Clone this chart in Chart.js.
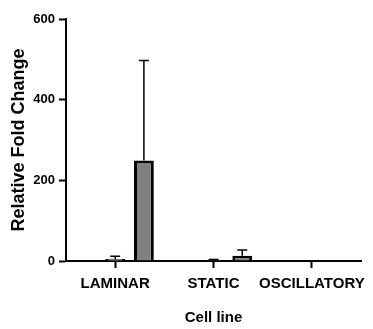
<!DOCTYPE html>
<html>
<head>
<meta charset="utf-8">
<script src="https://cdn.jsdelivr.net/npm/chart.js@4/dist/chart.umd.min.js"></script>
<style>
  html, body { margin: 0; padding: 0; background: #ffffff; }
  #wrap { width: 373px; height: 329px; }
</style>
</head>
<body>
<div id="wrap"><canvas id="c" width="373" height="329"></canvas></div>
<script>
// Categories on the x axis
const categories = ['LAMINAR', 'STATIC', 'OSCILLATORY'];

// Group means (relative fold change) and their upper error bars
const reservedMeans = [null, null, null];   // empty first slot of each group
const controlMeans  = [5, 3, 0];
const controlErrors = [7, 1, 0];
const treatedMeans  = [249, 13, 0];
const treatedErrors = [248, 14, 0];

// Y axis tick values
const yTicks = [0, 200, 400, 600];

const SANS = '"Liberation Sans", Arial, sans-serif';

// Draws an upward whisker with a cap above each bar
const upperErrorBars = {
  id: 'upperErrorBars',
  afterDatasetsDraw(chart) {
    const ctx = chart.ctx;
    const yScale = chart.scales.y;
    chart.data.datasets.forEach((ds, i) => {
      if (!ds.errors) return;
      const meta = chart.getDatasetMeta(i);
      meta.data.forEach((bar, j) => {
        const v = ds.data[j];
        const e = ds.errors[j];
        if (v == null || !e) return;
        const x = bar.x;
        const yBar = yScale.getPixelForValue(v);
        const yTop = yScale.getPixelForValue(v + e);
        ctx.save();
        ctx.strokeStyle = '#000000';
        ctx.lineWidth = 1.5;
        ctx.beginPath();
        ctx.moveTo(x, yBar);
        ctx.lineTo(x, yTop);
        ctx.moveTo(x - 5, yTop);
        ctx.lineTo(x + 5, yTop);
        ctx.stroke();
        ctx.restore();
      });
    });
  }
};

new Chart(document.getElementById('c'), {
  type: 'bar',
  data: {
    labels: categories,
    datasets: [
      { label: 'Reserved', data: reservedMeans, backgroundColor: '#ffffff', borderColor: '#000000', borderWidth: 3 },
      { label: 'Control', data: controlMeans, errors: controlErrors, backgroundColor: '#ffffff', borderColor: '#000000', borderWidth: 3 },
      { label: 'Treated', data: treatedMeans, errors: treatedErrors, backgroundColor: '#808080', borderColor: '#000000', borderWidth: 3 }
    ]
  },
  options: {
    responsive: false,
    animation: false,
    devicePixelRatio: 1,
    categoryPercentage: 0.876,
    barPercentage: 0.69,
    layout: { padding: { left: 0, top: 19, right: 8, bottom: 0 } },
    plugins: { legend: { display: false }, tooltip: { enabled: false } },
    scales: {
      x: {
        offset: true,
        afterFit(scale) { scale.height = 68; },
        grid: { offset: false, drawOnChartArea: false, tickLength: 7, tickWidth: 2, tickColor: '#000000' },
        border: { display: true, color: '#000000', width: 2 },
        ticks: { color: '#000000', padding: 7, maxRotation: 0, autoSkip: false,
                 font: { family: SANS, size: 15, weight: 'bold' } },
        title: { display: true, text: 'Cell line', color: '#000000',
                 font: { family: SANS, size: 15, weight: 'bold' }, padding: { top: 0, bottom: 2 } }
      },
      y: {
        min: 0, max: 600,
        afterFit(scale) { scale.width = 66; },
        afterBuildTicks(scale) { scale.ticks = yTicks.map(v => ({ value: v })); },
        grid: { drawOnChartArea: false, tickLength: 7, tickWidth: 2, tickColor: '#000000' },
        border: { display: true, color: '#000000', width: 2 },
        ticks: { color: '#000000', padding: 4,
                 font: { family: SANS, size: 13, weight: 'bold' } },
        title: { display: true, text: 'Relative Fold Change', color: '#000000',
                 font: { family: SANS, size: 18, weight: 'bold' }, padding: { top: 8, bottom: 0 } }
      }
    }
  },
  plugins: [upperErrorBars]
});
</script>
</body>
</html>
